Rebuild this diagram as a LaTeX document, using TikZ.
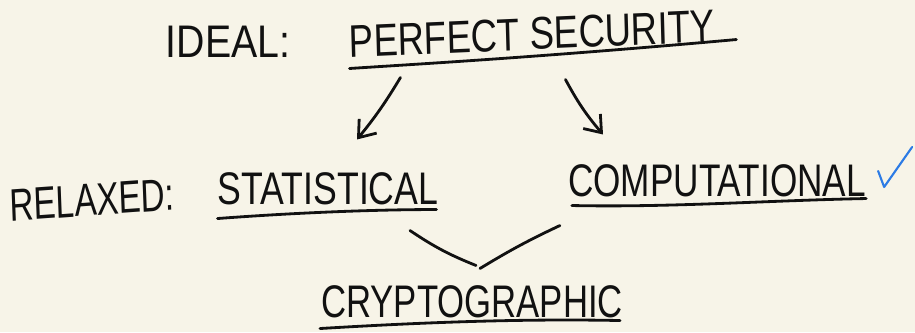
\documentclass[tikz,border=0pt]{standalone}
\usepackage{fontspec}
\setmainfont{Liberation Sans}
\usetikzlibrary{arrows.meta}
\definecolor{paper}{HTML}{F7F4E8}
\definecolor{ink}{HTML}{111111}
\definecolor{tick}{HTML}{2C7BE5}
\tikzset{
    hand/.style={inner sep=0pt, font=\fontsize{26}{26}\selectfont, text=ink, transform shape},
    pen/.style={draw=ink, line width=1.6pt, line cap=round, line join=round},
    barb/.style={pen, -{Straight Barb[length=3mm, width=4.5mm, line width=1.6pt]}}
}
\begin{document}
\begin{tikzpicture}[x=0.02cm, y=-0.02cm]
    \fill[paper] (0,0) rectangle (915,332);
    \useasboundingbox (0,0) rectangle (915,332);

    \node[hand, xscale=0.86] (ideal) at (228,42) {IDEAL:};
    \node[hand, xscale=0.80, rotate=2] (perfect) at (532,34) {PERFECT SECURITY};
    \node[hand, xscale=0.73, rotate=3] (relaxed) at (92,200) {RELAXED:};
    \node[hand, xscale=0.78] (statistical) at (328,189) {STATISTICAL};
    \node[hand, xscale=0.77] (computational) at (717,181) {COMPUTATIONAL};
    \node[hand, xscale=0.76] (crypto) at (472,302) {CRYPTOGRAPHIC};

    % underlines
    \draw[pen] ([shift={(0,10)}]perfect.south west) .. controls +(60,-4) and +(-200,18) .. ([shift={(21,-3)}]perfect.south east);
    \draw[pen] ([shift={(0,13)}]statistical.south west) .. controls +(80,-6) and +(-60,0) .. ([shift={(-2,4)}]statistical.south east);
    \draw[pen] ([shift={(4,8)}]computational.south west) .. controls +(100,2) and +(-100,2) .. ([shift={(0,1)}]computational.south east);
    \draw[pen] ([shift={(-1,10)}]crypto.south west) .. controls +(100,-6) and +(-100,-2) .. ([shift={(-3,2)}]crypto.south east);

    \draw[barb] ([shift={(-132,27)}]perfect.south) to[bend left=4] ([shift={(29,-33)}]statistical.north);
    \draw[barb] ([shift={(33,29)}]perfect.south) to[bend right=6] ([shift={(-114,-30)}]computational.north);

    \draw[pen] ([shift={(82,25)}]statistical.south) to[bend right=6] ([shift={(4,-20)}]crypto.north);
    \draw[pen] ([shift={(8,-17)}]crypto.north) to[bend left=3] ([shift={(-8,28)}]computational.south west);

    \draw[tick, line width=1.2pt, line cap=round, line join=round] ([shift={(12,-10)}]computational.east) -- ++(6,16) -- ++(28,-40);
\end{tikzpicture}
\end{document}
